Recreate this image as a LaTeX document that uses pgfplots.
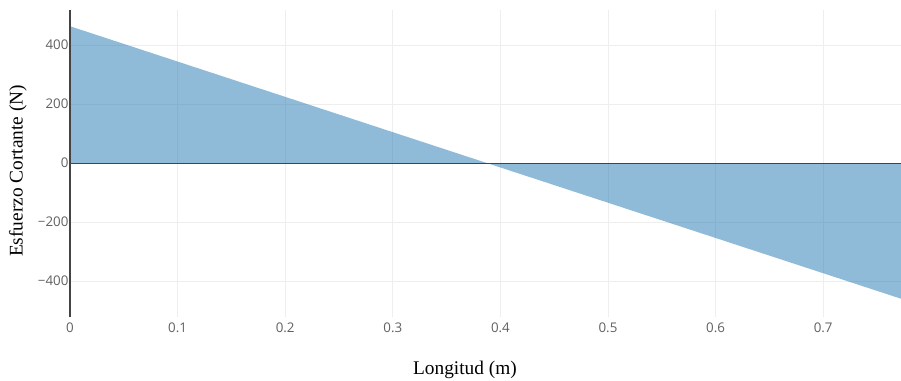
\documentclass[border=0pt]{standalone}
\usepackage{fontspec}
\setmainfont{Liberation Serif}
\newfontfamily\tickfont{Open Sans}
\usepackage{pgfplots}
\pgfplotsset{compat=1.18}
\definecolor{plotblue}{RGB}{31,119,180}
\definecolor{axgray}{RGB}{68,68,68}
\definecolor{gridgray}{RGB}{238,238,238}
\begin{document}
\begin{tikzpicture}
\useasboundingbox (-52.5pt,-47.25pt) rectangle (623.25pt,237.75pt);
\begin{axis}[
  at={(0,0)}, anchor=south west,
  scale only axis,
  width=623.25pt, height=230.25pt,
  xmin=0, xmax=0.7723, ymin=-522, ymax=519,
  axis line style={draw=none},
  tick style={draw=none},
  xtick={0,0.1,0.2,0.3,0.4,0.5,0.6,0.7},
  xticklabels={0,0.1,0.2,0.3,0.4,0.5,0.6,0.7},
  ytick={-400,-200,0,200,400},
  yticklabels={−400,−200,0,200,400},
  ticklabel style={font=\tickfont\fontsize{10}{11}\selectfont, text=axgray!85},
  yticklabel style={inner xsep=1pt},
  xticklabel style={yshift=-0.5pt},
  xmajorgrids, ymajorgrids,
  major grid style={gridgray, line width=0.75pt},
  clip=false,
]
\addplot[draw=none, fill=plotblue, fill opacity=0.5] coordinates {
  (0,0) (0,464) (0.3875,0) (0.7723,-460) (0.7723,0)
} -- cycle;
\draw[axgray, line width=0.75pt] (axis cs:0,0) -- (axis cs:0.7723,0);
\draw[axgray, line width=1.5pt] (axis cs:0,-522) -- (axis cs:0,519);
\end{axis}
\node[font=\fontsize{14.5}{16}\selectfont] at (296.25pt,-39.75pt) {Longitud (m)};
\node[rotate=90, font=\fontsize{14.5}{16}\selectfont] at (-39pt,109.5pt) {Esfuerzo Cortante (N)};
\end{tikzpicture}
\end{document}
